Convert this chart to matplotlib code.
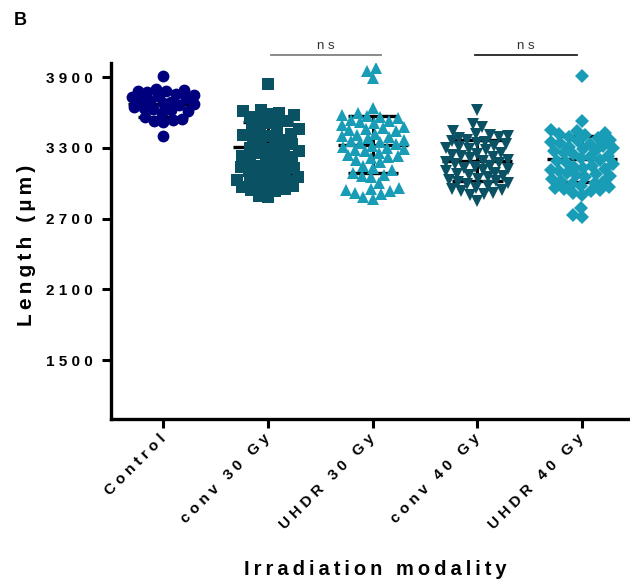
import numpy as np
import matplotlib
matplotlib.use('Agg')
import matplotlib.pyplot as plt

plt.rcParams['font.family'] = ['Liberation Sans', 'DejaVu Sans']
plt.rcParams['font.weight'] = 'bold'

groups = ['Control', 'conv 30 Gy', 'UHDR 30 Gy', 'conv 40 Gy', 'UHDR 40 Gy']

control = [3910, 3800, 3790, 3785, 3780, 3775, 3760, 3750, 3740, 3730, 3720,
           3710, 3700, 3690, 3680, 3670, 3660, 3650, 3640, 3630, 3620, 3610,
           3600, 3560, 3545, 3540, 3530, 3520, 3400]
conv30 = [3840, 3620, 3610, 3600, 3590, 3580, 3560, 3540, 3530, 3520, 3510,
          3480, 3460, 3440, 3430, 3420, 3410, 3400, 3390, 3370, 3350, 3340, 3330,
          3300, 3290, 3280, 3270, 3260, 3250, 3230, 3220, 3210, 3200, 3190, 3170,
          3150, 3140, 3130, 3120, 3110, 3100, 3080, 3060, 3050, 3040, 3030,
          3020, 3010, 3000, 2990, 2980, 2970, 2960, 2950, 2940, 2930, 2890, 2880]
uhdr30 = [3975, 3955, 3890, 3640, 3600, 3580, 3570, 3560, 3550, 3540, 3530, 3520,
          3510, 3490, 3480, 3470, 3460, 3450, 3440, 3420, 3410, 3400, 3390, 3380,
          3370, 3360, 3350, 3340, 3330, 3320, 3310, 3300, 3290, 3280, 3270, 3260,
          3240, 3230, 3220, 3210, 3200, 3180, 3150, 3130, 3110, 3090, 3070, 3060,
          3050, 3000, 2960, 2950, 2940, 2930, 2920, 2910, 2880, 2870]
conv40 = [3620, 3500, 3480, 3440, 3420, 3410, 3400, 3390, 3380, 3370, 3360, 3350,
          3340, 3330, 3320, 3310, 3300, 3290, 3280, 3260, 3250, 3240, 3230, 3220,
          3210, 3200, 3190, 3180, 3170, 3160, 3150, 3140, 3130, 3120, 3110, 3100,
          3090, 3080, 3070, 3060, 3050, 3040, 3030, 3020, 3010, 3000, 2990, 2980,
          2960, 2950, 2940, 2930, 2920, 2910, 2900, 2850]
uhdr40 = [3910, 3530, 3450, 3440, 3430, 3420, 3410, 3390, 3380, 3370, 3360, 3350,
          3340, 3330, 3320, 3310, 3300, 3290, 3280, 3270, 3260, 3250, 3230, 3220,
          3210, 3200, 3190, 3180, 3160, 3150, 3140, 3130, 3120, 3110, 3100, 3090,
          3080, 3070, 3060, 3050, 3040, 3020, 3010, 3000, 2990, 2980, 2970, 2960,
          2950, 2940, 2930, 2920, 2900, 2790, 2730, 2710]
values = [control, conv30, uhdr30, conv40, uhdr40]

# mean and SD as shown by the black bars
means = [3675, 3305, 3327, 3190, 3205]
sds = [110, 215, 243, 175, 196]

markers = ['o', 's', '^', 'v', 'D']
msizes = [8.5, 8.3, 9, 9, 7.2]
colors = ['#00007e', '#0a5163', '#199cb6', '#0a5163', '#199cb6']

yticks = [1500, 2100, 2700, 3300, 3900]

# pixels per data unit, used only to lay the swarm out
PX_X = 104.75
PX_Y = 0.1175


def spaced(s, gap=' '):
    return gap.join(s)


def swarm(vals, d=9.5, half=31.0):
    # simple beeswarm in pixel space, returns x offsets in data units
    vals = np.asarray(vals, dtype=float)
    ys = vals * PX_Y
    placed = []
    offs = np.zeros(len(vals))
    for i in np.argsort(vals):
        y = ys[i]
        near = [(px, py) for px, py in placed if abs(py - y) < d]
        cands = [0.0]
        for px, py in near:
            dx = np.sqrt(d * d - (py - y) ** 2)
            cands += [px - dx, px + dx]
        cands = sorted(cands, key=abs)
        best = None
        for c in cands:
            if abs(c) > half:
                continue
            if all((c - px) ** 2 + (y - py) ** 2 >= d * d - 1e-6 for px, py in near):
                best = c
                break
        if best is None:
            grid = np.linspace(-half, half, 25)
            score = [min([(g - px) ** 2 + (y - py) ** 2 for px, py in near] + [1e9]) for g in grid]
            best = grid[int(np.argmax(score))]
        placed.append((best, y))
        offs[i] = best / PX_X
    return offs


fig = plt.figure(figsize=(6.3, 5.81), dpi=100)
ax = fig.add_axes([111 / 630, 1 - 419 / 581, 519 / 630, 356 / 581])

for i, v in enumerate(values):
    # mean line and SD bar, behind the points
    ax.plot([i - 0.335, i + 0.335], [means[i], means[i]], color='black', lw=2.4, zorder=1,
            solid_capstyle='butt')
    ax.plot([i, i], [means[i] - sds[i], means[i] + sds[i]], color='black', lw=2.2, zorder=1)
    for e in (means[i] - sds[i], means[i] + sds[i]):
        ax.plot([i - 0.24, i + 0.24], [e, e], color='black', lw=2.4, zorder=1,
                solid_capstyle='butt')
    xs = i + swarm(v)
    ax.plot(xs, v, linestyle='none', marker=markers[i], markersize=msizes[i],
            color=colors[i], markeredgewidth=0, zorder=2)

ax.set_xlim(-0.5, 4.458)
ax.set_ylim(1000, 4020)
ax.set_yticks(yticks)
ax.set_yticklabels([spaced(str(t)) for t in yticks], fontsize=11, fontweight='bold')
ax.set_xticks(range(len(groups)))
ax.set_xticklabels([spaced(g) for g in groups], fontsize=11, fontweight='bold',
                   rotation=45, ha='right', va='center', rotation_mode='anchor')
for s in ['top', 'right']:
    ax.spines[s].set_visible(False)
for s in ['left', 'bottom']:
    ax.spines[s].set_linewidth(2.4)
ax.tick_params(axis='both', length=6.5, width=2.2, color='black')
ax.tick_params(axis='y', pad=6.5)
ax.tick_params(axis='x', pad=6)

# significance brackets
ax.plot([1.03, 2.08], [4087, 4087], color='#808080', lw=1.3, clip_on=False)
ax.plot([2.98, 3.95], [4087, 4087], color='#222222', lw=1.3, clip_on=False)
ax.text(1.555, 4165, spaced('ns'), ha='center', va='center', fontsize=9.5,
        fontweight='normal', color='#333333')
ax.text(3.465, 4165, spaced('ns'), ha='center', va='center', fontsize=9.5,
        fontweight='normal', color='#333333')

fig.text(375 / 630, 1 - 575 / 581, spaced('Irradiation modality', '\u2009'),
         ha='center', va='baseline', fontsize=14.5, fontweight='bold')
fig.text(27 / 630, 1 - 245 / 581, spaced('Length (µm)', '\u2009'),
         ha='center', va='center', rotation=90, fontsize=15, fontweight='bold')
fig.text(14 / 630, 1 - 25 / 581, 'B', ha='left', va='baseline', fontsize=13,
         fontweight='bold')

fig.savefig('out.png', dpi=100)
